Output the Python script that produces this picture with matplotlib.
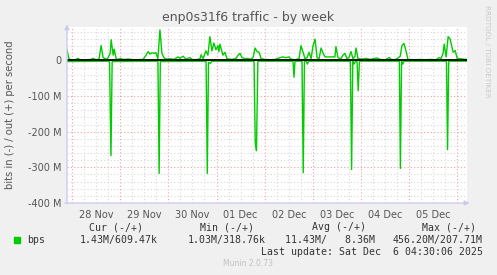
import matplotlib
matplotlib.use('Agg')
import matplotlib.pyplot as plt
from matplotlib.patches import Rectangle
import numpy as np

# hours since 28 Nov 00:00, values in Mbit/s
out_hours = [-2.5, -1.7, -1.0, 1.5, 3.0, 4.0, 9.0, 10.5, 12.0, 13.5, 14.5, 15.5, 17.5,
             19.0, 19.5, 20.5, 21.0, 22.0, 23.0, 24.0, 25.4, 28.0, 31.4, 35.4, 36.9,
             37.9, 38.9, 39.9, 40.8, 41.8, 42.8, 43.8, 44.8, 45.8, 46.8, 48.8, 50.8,
             52.8, 53.8, 55.3, 56.8, 58.8, 59.8, 61.8, 63.8, 64.3, 65.3, 66.7, 67.7,
             68.7, 69.7, 70.7, 71.7, 72.7, 73.2, 73.7, 75.2, 76.2, 77.2, 79.7, 81.7,
             82.7, 83.7, 84.7, 86.2, 87.7, 88.7, 90.2, 91.2, 92.2, 93.2, 94.2, 96.2,
             98.7, 101.2, 103.6, 105.1, 106.6, 108.1, 109.1, 111.1, 113.1, 114.1,
             115.1, 116.1, 117.1, 118.1, 119.1, 120.1, 121.1, 122.1, 123.1, 124.1,
             125.1, 126.1, 131.0, 131.5, 132.5, 134.0, 135.0, 136.0, 137.0, 138.0,
             139.0, 140.0, 141.0, 141.5, 142.5, 144.5, 146.5, 148.5, 150.0, 152.0,
             153.5, 156.0, 158.0, 159.0, 160.5, 162.0, 163.5, 164.4, 165.4, 166.4,
             167.4, 170.9, 173.4, 175.9, 178.4, 181.4, 182.9, 183.9, 184.9, 185.4,
             186.4, 187.4, 188.4, 189.4, 189.9, 190.9, 191.9, 193.4, 194.9, 196.4]
out_mbps = [30, 8, 2, 2, 6, 2, 2, 6, 2, 5, 42, 8, 3,
            20, 58, 15, 32, 5, 3, 6, 3, 4, 2, 3, 15,
            25, 18, 22, 20, 22, 5, 86, 20, 8, 4, 5, 3,
            10, 6, 12, 4, 8, 3, 2, 5, 16, 5, 27, 15,
            67, 27, 49, 30, 42, 25, 46, 15, 23, 5, 3, 6,
            15, 20, 8, 5, 6, 3, 8, 35, 25, 23, 5, 3,
            2, 3, 8, 10, 8, 10, 4, 2, 5, 42,
            23, 5, 8, 23, 5, 42, 60, 8, 5, 35,
            20, 10, 10, 39, 8, 5, 15, 20, 5, 8,
            25, 5, 12, 35, 5, 4, 6, 3, 5, 7,
            3, 2, 8, 3, 2, 5, 12, 42, 48, 27,
            3, 2, 3, 2, 3, 2, 8, 6, 20, 46,
            10, 67, 60, 35, 23, 28, 6, 5, 4, 3]

in_hours = [-2.5, 18.7, 19.4, 20.0, 42.8, 43.4, 44.0, 66.8, 67.4, 68.0,
            69.0, 69.6, 90.7, 91.3, 91.9, 92.6, 110.1, 110.6, 111.1, 114.6, 115.2,
            115.8, 116.7, 117.3, 117.9, 138.7, 139.3, 139.9, 140.5, 141.3, 142.0,
            142.6, 143.2, 163.1, 163.6, 164.2, 164.8, 165.4, 186.6, 187.1, 187.7, 196.4]
in_mbps = [-3, -2, -267, -3, -2, -317, -3, -2, -317, -5,
           -8, -2, -2, -230, -253, -2, -2, -47, -2, -2, -315,
           -2, -2, -10, -2, -2, -306, -2, -10, -2, -3,
           -85, -2, -2, -303, -2, -10, -2, -2, -250, -2, -2]

day_labels = ['28 Nov', '29 Nov', '30 Nov', '01 Dec', '02 Dec', '03 Dec', '04 Dec', '05 Dec']

GREEN = '#00CC00'
TXT = '#555555'
BG = '#F0F0F0'

fig = plt.figure(figsize=(4.97, 2.75), dpi=100, facecolor=BG)
ax = fig.add_axes([67 / 497, 1 - 203 / 275, 400 / 497, 176 / 275])
ax.set_facecolor('white')

xlim = (-2.5, 196.8)
ylim = (-400, 94)
ax.set_xlim(*xlim)
ax.set_ylim(*ylim)

# grid: 6 h / 20 M minor, day / 100 M major
for h in np.arange(0, 197, 6):
    major = h % 24 == 0
    ax.axvline(h, color='#F0A0A0' if major else '#D8D8D8', lw=0.8,
               ls=(0, (1, 2)), zorder=1)
for v in np.arange(-380, 94, 20):
    major = v % 100 == 0
    ax.axhline(v, color='#F0A0A0' if major else '#D8D8D8', lw=0.8,
               ls=(0, (1, 2)), zorder=1)

ax.plot(out_hours, out_mbps, color=GREEN, lw=1.0, zorder=3)
ax.plot(in_hours, in_mbps, color=GREEN, lw=1.0, zorder=3)
ax.axhline(0, color='black', lw=1.3, zorder=4)

for s in ax.spines.values():
    s.set_visible(False)

# axis lines with arrows (light blue)
AX = '#C8C8F0'
ax.annotate('', xy=(1.013, 0), xytext=(-0.012, 0), xycoords='axes fraction',
            arrowprops=dict(arrowstyle='-|>', color=AX, lw=0.9, mutation_scale=7),
            annotation_clip=False, zorder=5)
ax.annotate('', xy=(0, 1.03), xytext=(0, -0.02), xycoords='axes fraction',
            arrowprops=dict(arrowstyle='-|>', color=AX, lw=0.9, mutation_scale=7),
            annotation_clip=False, zorder=5)

ax.set_yticks([0, -100, -200, -300, -400])
ax.set_yticklabels(['0', '-100 M', '-200 M', '-300 M', '-400 M'])
ax.set_xticks([12 + 24 * i for i in range(len(day_labels))])
ax.set_xticklabels(day_labels)
ax.tick_params(axis='both', length=0, labelsize=7, labelcolor=TXT, pad=4)
ax.tick_params(axis='x', pad=5)

ax.set_ylabel('bits in (-) / out (+) per second', fontsize=7.2, color=TXT, labelpad=9)

fig.text(248 / 497, 1 - 17 / 275, 'enp0s31f6 traffic - by week', ha='center', va='center',
         fontsize=9, color=TXT)
fig.text(487 / 497, 1 - 5 / 275, 'RRDTOOL / TOBI OETIKER', ha='center', va='top',
         rotation=270, fontsize=5.2, color='#C8C8C8')

# legend block
mono = dict(family='DejaVu Sans Mono', fontsize=7.1, color='#333333', va='center')
y1 = 1 - 227 / 275
y2 = 1 - 240 / 275
y3 = 1 - 252 / 275
for xc, t in [(116, 'Cur (-/+)'), (227, 'Min (-/+)'), (339, 'Avg (-/+)'), (449, 'Max (-/+)')]:
    fig.text(xc / 497, y1, t, ha='center', **mono)
fig.patches.append(Rectangle((14 / 497, 1 - 243 / 275), 6 / 497, 6 / 275,
                             transform=fig.transFigure, color=GREEN))
fig.text(27 / 497, y2, 'bps', ha='left', **mono)
fig.text(158 / 497, y2, '1.43M/609.47k', ha='right', **mono)
fig.text(266 / 497, y2, '1.03M/318.76k', ha='right', **mono)
fig.text(375 / 497, y2, '11.43M/   8.36M', ha='right', **mono)
fig.text(483 / 497, y2, '456.20M/207.71M', ha='right', **mono)
fig.text(483 / 497, y3, 'Last update: Sat Dec  6 04:30:06 2025', ha='right', **mono)
fig.text(248 / 497, 1 - 263 / 275, 'Munin 2.0.73', ha='center', va='center',
         fontsize=5.5, color='#C0C0C0')

fig.savefig('out.png', dpi=100, facecolor=BG)
